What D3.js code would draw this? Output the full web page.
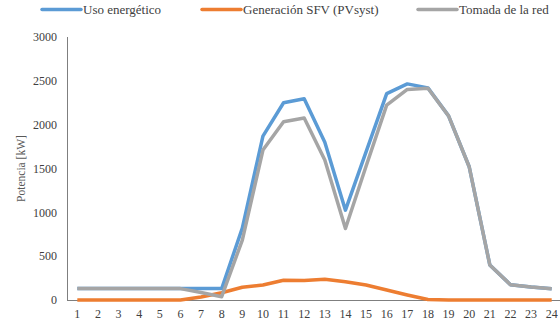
<!DOCTYPE html>
<html><head><meta charset="utf-8">
<script src="https://cdn.jsdelivr.net/npm/d3@7/dist/d3.min.js"></script>
<style>body{margin:0;background:#fff}</style>
</head><body><svg id="c" width="560" height="330"></svg>
<script>
const hours = d3.range(1,25);
const usoEnergetico = [130,130,130,130,130,130,130,130,820,1870,2250,2295,1800,1025,1690,2355,2465,2420,2100,1520,400,175,148,128];
const generacionSFV = [0,0,0,0,0,0,34,83,145,172,226,222,236,209,171,114,57,5,0,0,0,0,0,0];
const tomadaRed =     [130,130,130,130,130,130,85,38,684,1710,2033,2075,1596,815,1525,2223,2402,2415,2100,1520,400,175,148,128];
const yTicks = [0,500,1000,1500,2000,2500,3000];
const seriesNames = ["Uso energético","Generación SFV (PVsyst)","Tomada de la red"];
const colors = ["#5B9BD5","#ED7D31","#A5A5A5"];

const svg = d3.select("#c");
const FONT = "Liberation Serif";
const x = d3.scaleBand().domain(hours).range([67,562]);
const y = d3.scaleLinear().domain([0,3000]).range([300,37]);

// y tick labels
svg.append("g").selectAll("text").data(yTicks).join("text")
  .attr("x",57).attr("y",d=>y(d)).attr("dy","0.35em").attr("text-anchor","end")
  .attr("font-family",FONT).attr("font-size",12).attr("fill","#404040").text(d=>d);
// x tick labels
svg.append("g").selectAll("text").data(hours).join("text")
  .attr("x",d=>x(d)+x.bandwidth()/2).attr("y",314).attr("dy","0.35em").attr("text-anchor","middle")
  .attr("font-family",FONT).attr("font-size",12).attr("fill","#404040").text(d=>d);
// axes lines
svg.append("line").attr("x1",67.5).attr("x2",67.5).attr("y1",y(3000)).attr("y2",y(0)).attr("stroke","#7f7f7f");
svg.append("line").attr("x1",67).attr("x2",560).attr("y1",y(0)+0.5).attr("y2",y(0)+0.5).attr("stroke","#7f7f7f");

// y label
svg.append("text").attr("transform",`translate(21,${(y(0)+y(3000))/2}) rotate(-90)`)
  .attr("text-anchor","middle").attr("dy","0.35em").attr("font-family",FONT).attr("font-size",11.5)
  .attr("fill","#595959").text("Potencia [kW]");

const line = d3.line().x((d,i)=>x(hours[i])+x.bandwidth()/2).y(d=>y(d));
[usoEnergetico,generacionSFV,tomadaRed].forEach((s,k)=>{
  svg.append("path").datum(s).attr("d",line).attr("fill","none")
    .attr("stroke",colors[k]).attr("stroke-width",3.5).attr("stroke-linejoin","round");
});

// legend
const legX = [42,202,418];
seriesNames.forEach((n,k)=>{
  svg.append("line").attr("x1",legX[k]).attr("x2",legX[k]+39).attr("y1",9.5).attr("y2",9.5)
    .attr("stroke",colors[k]).attr("stroke-width",3.5).attr("stroke-linecap","round");
  svg.append("text").attr("x",legX[k]+41).attr("y",9.5).attr("dy","0.35em")
    .attr("font-family",FONT).attr("font-size",13).attr("fill","#404040").text(n);
});
</script></body></html>
